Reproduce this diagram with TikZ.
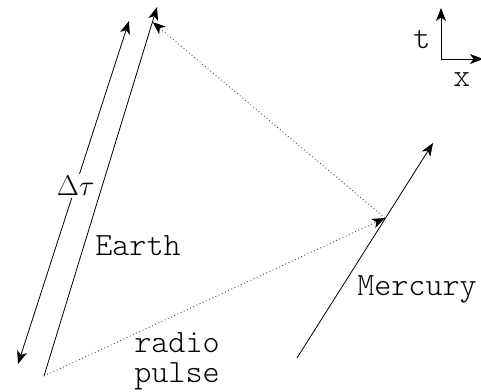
\documentclass[tikz,border=0pt]{standalone}
\usetikzlibrary{arrows.meta}
\begin{document}
\begin{tikzpicture}[x=1pt,y=-1pt,
  tip/.style={-{Stealth[length=13pt,width=10pt,inset=3.5pt]}},
  worldline/.style={line width=0.8pt,tip},
  signal/.style={line width=0.9pt,black!70,dash pattern=on 0.9pt off 2.6pt,
     -{Stealth[length=13pt,width=10pt,inset=3.5pt,black]}},
  lbl/.style={font=\fontsize{32.5}{36}\fontfamily{lmtt}\fontseries{l}\selectfont,inner sep=1pt}]
\useasboundingbox (0,0) rectangle (481,391);
% events
\coordinate (E0) at (44,376);
\coordinate (E1) at (157,7);
\coordinate (E2) at (152.5,22);
\coordinate (M0) at (297,358);
\coordinate (M1) at (433,143);
\coordinate (M2) at (385,218);
\coordinate (D0) at (18,364);
\coordinate (D1) at (129,21);
\coordinate (O) at (441,59);
\coordinate (T) at (441,8);
\coordinate (X) at (483,59);
% worldlines
\draw[worldline] (E0) -- (E1);
\draw[worldline] (M0) -- (M1);
% signals
\draw[signal] (E0) -- (M2);
\draw[signal] (M2) -- (E2);
% proper time interval
\draw[line width=0.8pt,{Stealth[length=13pt,width=10pt,inset=3.5pt]}-{Stealth[length=13pt,width=10pt,inset=3.5pt]}]
  (D0) -- node[pos=0.52,fill=white,font=\fontsize{32.5}{36}\selectfont,scale=1.15,inner sep=2pt] (dt) {$\Delta\tau$} (D1);
% labels
\node[lbl] (earth) at (138,246) {Earth};
\node[lbl] (merc) at (417,289) {Mercury};
\node[lbl,align=center] (radio) at (177,361) {radio\\[-6pt]pulse};
% axes
\draw[line width=0.8pt,tip] (O) -- (T);
\draw[line width=0.8pt,tip] (O) -- (X);
\node[lbl] (tl) at (422,40) {t};
\node[lbl] (xl) at (462,80) {x};
\end{tikzpicture}
\end{document}
